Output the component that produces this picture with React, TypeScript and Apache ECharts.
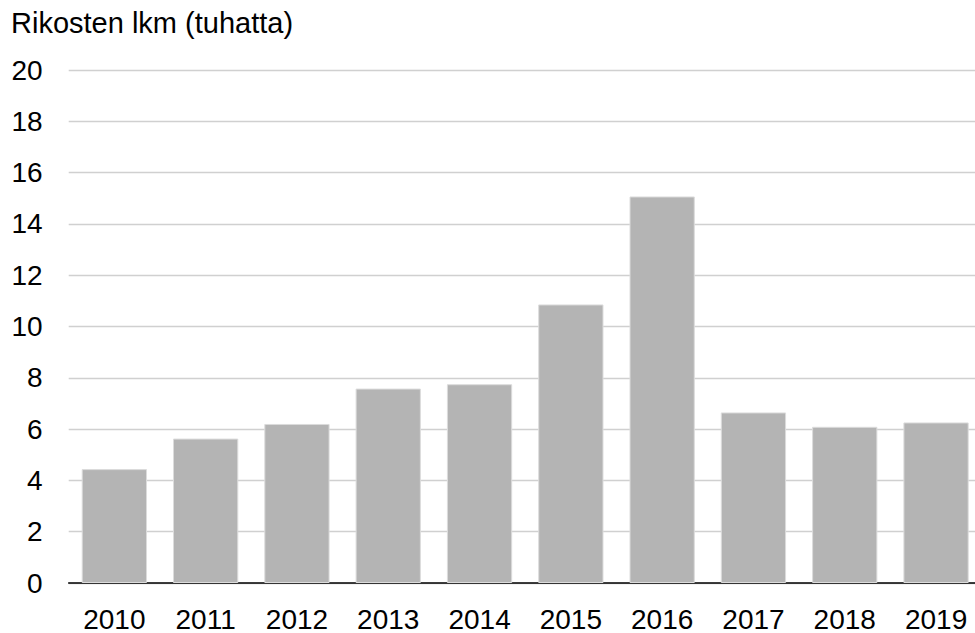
import React, { useEffect, useRef } from "react";
import * as echarts from "echarts";

const years = ["2010", "2011", "2012", "2013", "2014", "2015", "2016", "2017", "2018", "2019"];
const crimes = [4.44, 5.63, 6.2, 7.58, 7.75, 10.86, 15.07, 6.65, 6.09, 6.26];
const yAxisTitle = "Rikosten lkm (tuhatta)";

export default function App() {
  const ref = useRef<HTMLDivElement>(null);
  useEffect(() => {
    if (!ref.current) return;
    const chart = echarts.init(ref.current, undefined, { renderer: "svg" });
    const font = "'Liberation Sans', Arial, sans-serif";
    chart.setOption({
      animation: false,
      backgroundColor: "#ffffff",
      title: {
        text: yAxisTitle,
        left: 11,
        top: 8,
        padding: 0,
        textStyle: { fontFamily: font, fontSize: 29, fontWeight: "normal", color: "#000000" },
      },
      grid: { left: 68.7, top: 70, width: 913, height: 513.3, containLabel: false },
      xAxis: {
        type: "category",
        data: years,
        axisLine: { show: true, lineStyle: { color: "#000000", width: 1.5 } },
        axisTick: { show: false },
        axisLabel: { fontFamily: font, fontSize: 28, color: "#000000", margin: 22 },
        splitLine: { show: false },
      },
      yAxis: {
        type: "value",
        min: 0,
        max: 20,
        interval: 2,
        axisLine: { show: false },
        axisTick: { show: false },
        axisLabel: { fontFamily: font, fontSize: 28, color: "#000000", margin: 26 },
        splitLine: { show: true, lineStyle: { color: "#d0d0d0", width: 1.3 } },
      },
      series: [
        {
          type: "bar",
          data: crimes,
          barCategoryGap: "28.5%",
          itemStyle: { color: "#b4b4b4", borderColor: "#dcdcdc", borderWidth: 1 },
        },
      ],
    });
    return () => chart.dispose();
  }, []);
  return (
    <div
      style={{ position: "fixed", left: 0, top: 0, width: 975, height: 633, overflow: "hidden", background: "#ffffff" }}
    >
      <div ref={ref} style={{ width: 995, height: 633 }} />
    </div>
  );
}
